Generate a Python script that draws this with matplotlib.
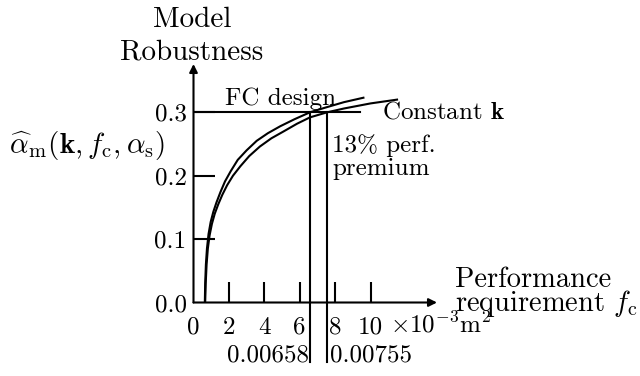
import matplotlib
matplotlib.use("Agg")
import matplotlib.pyplot as plt

plt.rcParams['font.family'] = 'cmr10'
plt.rcParams['mathtext.fontset'] = 'cm'
plt.rcParams['axes.formatter.use_mathtext'] = True

# robustness curves
fc_x = [0.64, 0.66, 0.70, 0.76, 0.85, 0.97, 1.12, 1.30, 1.52, 1.78, 2.1, 2.5,
        3.0, 3.57, 4.2, 4.9, 5.7, 6.58, 7.4, 8.5, 9.6]
fc_y = [0.0, 0.03, 0.06, 0.085, 0.108, 0.127, 0.143, 0.158, 0.174, 0.191, 0.207, 0.225,
        0.240, 0.255, 0.267, 0.278, 0.289, 0.300, 0.307, 0.316, 0.323]
k_x = [0.66, 0.69, 0.74, 0.81, 0.91, 1.04, 1.20, 1.40, 1.63, 1.90, 2.23, 2.65,
       3.15, 3.75, 4.4, 5.1, 5.85, 6.58, 7.55, 8.5, 10.0, 11.5]
k_y = [0.0, 0.03, 0.06, 0.085, 0.106, 0.124, 0.140, 0.155, 0.170, 0.185, 0.200, 0.215,
       0.231, 0.246, 0.259, 0.270, 0.282, 0.292, 0.300, 0.306, 0.314, 0.320]

alpha_req = 0.3
fc_design = 6.58   # x 1e-3 m^2
fc_const = 7.55

xticks = [0, 2, 4, 6, 8, 10]
yticks = [0.0, 0.1, 0.2, 0.3]

lw = 1.5
fig = plt.figure(figsize=(6.4, 3.76), dpi=100)
ax = fig.add_axes([193.5 / 640, 73.5 / 376, 243.5 / 640, 238.5 / 376])
ax.set_xlim(0, 243.5 / 17.7)
ax.set_ylim(0, 238.5 / 634)
for s in ax.spines.values():
    s.set_visible(False)

# axes with arrow heads
ax.annotate('', xy=(1, 0), xytext=(0, 0), xycoords='axes fraction',
            arrowprops=dict(arrowstyle='-|>', lw=lw, color='k', mutation_scale=12,
                            shrinkA=0, shrinkB=0))
ax.annotate('', xy=(0, 1), xytext=(0, 0), xycoords='axes fraction',
            arrowprops=dict(arrowstyle='-|>', lw=lw, color='k', mutation_scale=12,
                            shrinkA=0, shrinkB=0))

ax.plot(fc_x, fc_y, color='k', lw=lw)
ax.plot(k_x, k_y, color='k', lw=lw)

ax.plot([0, 9.4], [alpha_req, alpha_req], color='k', lw=lw)
for xv in (fc_design, fc_const):
    ax.plot([xv, xv], [alpha_req, -0.094], color='k', lw=lw, clip_on=False)

small = 18
big = 20.5

ax.set_xticks(xticks)
ax.set_xticklabels([str(t) for t in xticks])
ax.set_yticks(yticks)
ax.set_yticklabels(['%.1f' % t for t in yticks])
ax.tick_params(direction='in', length=15, width=lw, labelsize=small)
ax.tick_params(axis='x', pad=10)
ax.tick_params(axis='y', pad=5)
ax.xaxis.majorTicks[0].tick1line.set_visible(False)
ax.yaxis.majorTicks[0].tick1line.set_visible(False)

ax.text(-0.085, 0.4345, 'Model', ha='center', va='baseline', fontsize=21, clip_on=False)
ax.text(-0.085, 0.384, 'Robustness', ha='center', va='baseline', fontsize=21, clip_on=False)
ax.text(-1.61, 0.247, r'$\widehat{\alpha}_{\rm m}(\mathbf{k}, f_{\rm c}, \alpha_{\rm s})$',
        ha='right', va='center', fontsize=21, clip_on=False)
ax.text(14.77, 0.0245, 'Performance', ha='left', va='baseline', fontsize=big, clip_on=False)
ax.text(14.77, -0.0134, r'requirement $f_{\rm c}$', ha='left', va='baseline',
        fontsize=big, clip_on=False)
ax.text(11.1, -0.0465, r'$\times 10^{-3}$m$^2$', ha='left', va='baseline',
        fontsize=small, clip_on=False)

ax.text(1.78, 0.3115, 'FC design', ha='left', va='baseline', fontsize=small)
ax.text(10.65, 0.291, r'Constant $\mathbf{k}$', ha='left', va='baseline',
        fontsize=small, clip_on=False)
ax.text(7.82, 0.237, '13% perf.', ha='left', va='baseline', fontsize=small)
ax.text(7.82, 0.201, 'premium', ha='left', va='baseline', fontsize=small)

ax.text(fc_design - 0.06, -0.0923, '%.5f' % (fc_design / 1000), ha='right',
        va='baseline', fontsize=small, clip_on=False)
ax.text(fc_const + 0.15, -0.0923, '%.5f' % (fc_const / 1000), ha='left',
        va='baseline', fontsize=small, clip_on=False)

fig.savefig('out.png', dpi=100)
